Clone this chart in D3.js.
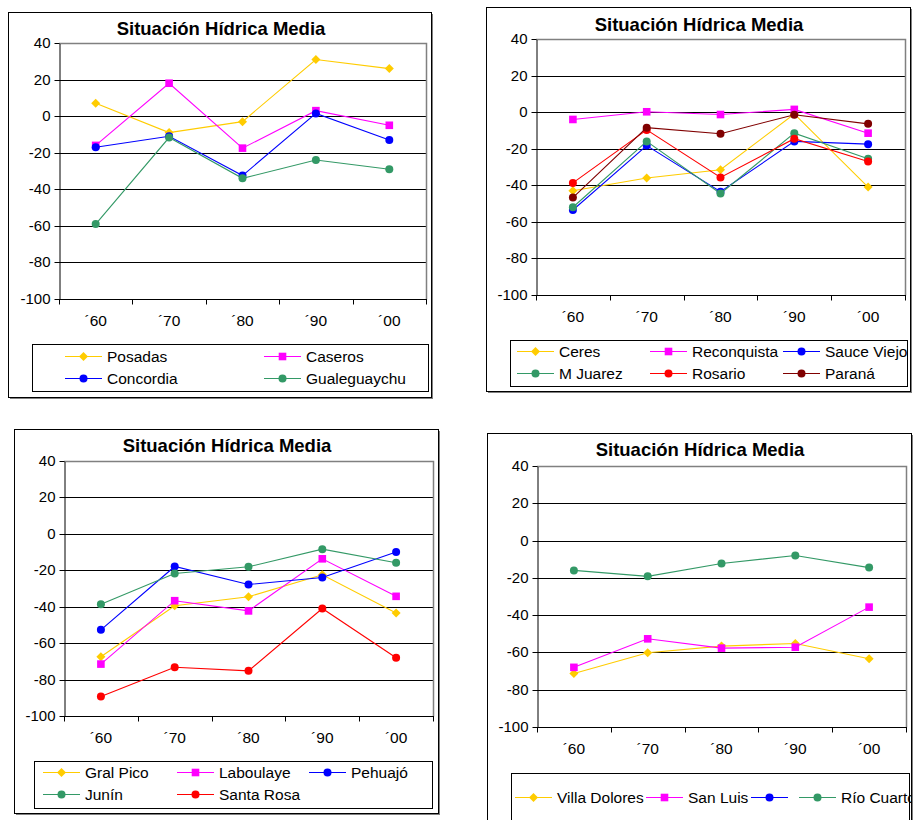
<!DOCTYPE html>
<html>
<head>
<meta charset="utf-8">
<script src="https://cdn.jsdelivr.net/npm/d3@7"></script>
<style>
  html, body { margin: 0; padding: 0; background: #fff; }
  svg { display: block; font-family: "Liberation Sans", Arial, sans-serif; }
</style>
</head>
<body>
<svg id="chart" width="913" height="820"></svg>
<script>
// Decades on the category axis and the value ticks shared by all four charts
const categories = ["´60", "´70", "´80", "´90", "´00"];
const yTicks = [40, 20, 0, -20, -40, -60, -80, -100];
const titleText = "Situación Hídrica Media";

// Litoral / Entre Ríos
const names1 = ["Posadas", "Caseros", "Concordia", "Gualeguaychu"];
const posadas      = [7, -9, -3, 31, 26];
const caseros      = [-16, 18, -17.5, 3, -5];
const concordia    = [-17, -11, -32.5, 1.5, -13];
const gualeguaychu = [-59, -11.7, -34, -24, -29];

// Santa Fe
const names2 = ["Ceres", "Reconquista", "Sauce Viejo", "M Juarez", "Rosario", "Paraná"];
const ceres       = [-43, -36, -31.5, -1, -41];
const reconquista = [-4, 0.2, -1.3, 1.5, -11.5];
const sauceViejo  = [-53.5, -18.3, -43.5, -16, -17.5];
const mJuarez     = [-52, -16, -44.5, -11.5, -25.5];
const rosario     = [-38.7, -9.7, -35.7, -14.5, -27];
const parana      = [-46.7, -8.5, -11.8, -1.4, -6.4];

// Pampa
const names3 = ["Gral Pico", "Laboulaye", "Pehuajó", "Junín", "Santa Rosa"];
const gralPico   = [-67.5, -39.5, -34.5, -22.5, -43.5];
const laboulaye  = [-71.5, -36.7, -42.3, -13.7, -34.3];
const pehuajo    = [-52.7, -17.9, -27.8, -24, -10];
const junin      = [-38.6, -21.8, -18.1, -8.4, -15.9];
const santaRosa  = [-89.3, -73.2, -75.2, -41, -68];

// Cuyo / Córdoba
const names4 = ["Villa Dolores", "San Luis", "", "Río Cuarto"];
const villaDolores = [-71.3, -60.2, -56.6, -55.2, -63.4];
const sanLuis      = [-68, -52.7, -57.7, -57.2, -35.7];
const unnamed      = [null, null, null, null, null];
const rioCuarto    = [-16, -19.2, -12.3, -8, -14.5];

// Series styles
const GOLD = "#FFCC00", MAGENTA = "#FF00FF", BLUE = "#0000FF",
      GREEN = "#339966", RED = "#FF0000", MAROON = "#800000";

const panels = [
  {
    frame: {x: 8, y: 12, w: 423, h: 385},
    plot: {x0: 59, x1: 426, y0: 43, y1: 299},
    title: {x: 221, y: 35},
    legend: {x: 32, y: 344, w: 396, h: 47, rows: [356, 378], cols: [65, 264], clip: "legend"},
    series: [
      {name: names1[0], values: posadas, color: GOLD, shape: "diamond"},
      {name: names1[1], values: caseros, color: MAGENTA, shape: "square"},
      {name: names1[2], values: concordia, color: BLUE, shape: "circle"},
      {name: names1[3], values: gualeguaychu, color: GREEN, shape: "circle"}
    ]
  },
  {
    frame: {x: 486, y: 7, w: 424, h: 384},
    plot: {x0: 536, x1: 905, y0: 39, y1: 295},
    title: {x: 699, y: 31},
    legend: {x: 510, y: 340, w: 397, h: 46, rows: [351, 373], cols: [517, 650, 783], clip: "legend"},
    series: [
      {name: names2[0], values: ceres, color: GOLD, shape: "diamond"},
      {name: names2[1], values: reconquista, color: MAGENTA, shape: "square"},
      {name: names2[2], values: sauceViejo, color: BLUE, shape: "circle"},
      {name: names2[3], values: mJuarez, color: GREEN, shape: "circle"},
      {name: names2[4], values: rosario, color: RED, shape: "circle"},
      {name: names2[5], values: parana, color: MAROON, shape: "circle"}
    ]
  },
  {
    frame: {x: 14, y: 429, w: 424, h: 384},
    plot: {x0: 64, x1: 433, y0: 461, y1: 716},
    title: {x: 227, y: 452},
    legend: {x: 34, y: 761, w: 398, h: 47, rows: [772, 794], cols: [43, 177, 309], clip: "legend"},
    series: [
      {name: names3[0], values: gralPico, color: GOLD, shape: "diamond"},
      {name: names3[1], values: laboulaye, color: MAGENTA, shape: "square"},
      {name: names3[2], values: pehuajo, color: BLUE, shape: "circle"},
      {name: names3[3], values: junin, color: GREEN, shape: "circle"},
      {name: names3[4], values: santaRosa, color: RED, shape: "circle"}
    ]
  },
  {
    frame: {x: 487, y: 433, w: 424, h: 400},
    plot: {x0: 537, x1: 906, y0: 466, y1: 727},
    title: {x: 700, y: 456},
    legend: {x: 511, y: 773, w: 398, h: 60, rows: [797], cols: [515, 646, 751, 799], clip: "frame"},
    series: [
      {name: names4[0], values: villaDolores, color: GOLD, shape: "diamond"},
      {name: names4[1], values: sanLuis, color: MAGENTA, shape: "square"},
      {name: names4[2], values: unnamed, color: BLUE, shape: "circle"},
      {name: names4[3], values: rioCuarto, color: GREEN, shape: "circle"}
    ]
  }
];

const svg = d3.select("#chart");
const defs = svg.append("defs");
const px = v => Math.round(v) + 0.5;

function marker(sel, shape, color, cx, cy) {
  if (shape === "diamond") {
    sel.append("path")
      .attr("d", `M${cx},${cy - 4.5}L${cx + 4.5},${cy}L${cx},${cy + 4.5}L${cx - 4.5},${cy}Z`)
      .attr("fill", color);
  } else if (shape === "square") {
    sel.append("rect")
      .attr("x", cx - 3.8).attr("y", cy - 3.8).attr("width", 7.6).attr("height", 7.6)
      .attr("fill", color);
  } else {
    sel.append("circle").attr("cx", cx).attr("cy", cy).attr("r", 4).attr("fill", color);
  }
}

panels.forEach((p, i) => {
  const g = svg.append("g");
  const f = p.frame;

  // Chart frame with a drop shadow
  g.append("rect").attr("x", f.x + 2).attr("y", f.y + 2).attr("width", f.w).attr("height", f.h)
    .attr("fill", "#808080");
  g.append("rect").attr("x", px(f.x)).attr("y", px(f.y)).attr("width", f.w).attr("height", f.h)
    .attr("fill", "#fff").attr("stroke", "#000").attr("stroke-width", 1);

  g.append("text")
    .attr("x", p.title.x).attr("y", p.title.y)
    .attr("text-anchor", "middle")
    .attr("font-size", 18.5).attr("font-weight", "bold")
    .text(titleText);

  const x = d3.scaleBand().domain(categories).range([p.plot.x0, p.plot.x1]);
  const y = d3.scaleLinear().domain([-100, 40]).range([p.plot.y1, p.plot.y0]);

  // Horizontal gridlines
  g.append("g").selectAll("line")
    .data(yTicks.filter(t => t !== 40 && t !== -100))
    .join("line")
    .attr("x1", p.plot.x0).attr("x2", p.plot.x1)
    .attr("y1", d => px(y(d))).attr("y2", d => px(y(d)))
    .attr("stroke", "#000").attr("stroke-width", 1);

  // Plot area top and right edges
  g.append("path")
    .attr("d", `M${p.plot.x0},${px(y(40))}H${px(p.plot.x1)}V${px(y(-100))}`)
    .attr("fill", "none").attr("stroke", "#808080").attr("stroke-width", 1.5);

  // Value axis
  const yAxis = g.append("g")
    .attr("transform", `translate(${px(p.plot.x0)},0.5)`)
    .call(d3.axisLeft(y).tickValues(yTicks).tickSize(5).tickSizeOuter(0).tickPadding(4)
      .tickFormat(d => String(d)));
  yAxis.selectAll("text").attr("font-size", 15).attr("fill", "#000")
    .attr("font-family", "Liberation Sans, Arial, sans-serif");
  yAxis.selectAll("path, line").attr("stroke", "#000");
  yAxis.selectAll(".tick").attr("transform", d => `translate(0,${Math.round(y(d))})`);

  // Category axis: line, tick marks between categories, labels at centres
  const axisY = px(y(-100));
  g.append("line").attr("x1", p.plot.x0).attr("x2", p.plot.x1 + 1)
    .attr("y1", axisY).attr("y2", axisY).attr("stroke", "#000");
  const bounds = d3.range(categories.length + 1).map(k => p.plot.x0 + k * x.step());
  g.append("g").selectAll("line").data(bounds).join("line")
    .attr("x1", d => px(d)).attr("x2", d => px(d))
    .attr("y1", axisY).attr("y2", axisY + 5)
    .attr("stroke", "#000");
  g.append("g").selectAll("text").data(categories).join("text")
    .attr("x", d => x(d) + x.bandwidth() / 2)
    .attr("y", p.plot.y1 + 27)
    .attr("text-anchor", "middle")
    .attr("font-size", 15.5)
    .text(d => d);

  // Series lines and markers
  const line = d3.line()
    .defined(d => d != null)
    .x((d, k) => x(categories[k]) + x.bandwidth() / 2)
    .y(d => y(d));
  p.series.forEach(s => {
    g.append("path").datum(s.values)
      .attr("d", line)
      .attr("fill", "none").attr("stroke", s.color).attr("stroke-width", 1.1);
    const mg = g.append("g");
    s.values.forEach((v, k) => {
      if (v == null) return;
      marker(mg, s.shape, s.color, x(categories[k]) + x.bandwidth() / 2, y(v));
    });
  });

  // Legend
  const L = p.legend;
  const clipId = "clip" + i;
  const cp = defs.append("clipPath").attr("id", clipId).append("rect");
  if (L.clip === "legend") {
    cp.attr("x", L.x).attr("y", L.y).attr("width", L.w).attr("height", L.h);
  } else {
    cp.attr("x", f.x).attr("y", f.y).attr("width", f.w).attr("height", f.h);
  }
  g.append("rect").attr("x", px(L.x)).attr("y", px(L.y)).attr("width", L.w).attr("height", L.h)
    .attr("fill", "#fff").attr("stroke", "#000");
  const lg = g.append("g").attr("clip-path", `url(#${clipId})`);
  const ncol = L.cols.length;
  p.series.forEach((s, k) => {
    const cx0 = L.cols[k % ncol];
    const cy = L.rows[Math.floor(k / ncol)];
    lg.append("line").attr("x1", cx0).attr("x2", cx0 + 37)
      .attr("y1", px(cy)).attr("y2", px(cy))
      .attr("stroke", s.color).attr("stroke-width", 1.1);
    marker(lg, s.shape, s.color, cx0 + 18.5, cy + 0.5);
    lg.append("text").attr("x", cx0 + 42).attr("y", cy + 5.5)
      .attr("font-size", 15.5).text(s.name);
  });
});
</script>
</body>
</html>
